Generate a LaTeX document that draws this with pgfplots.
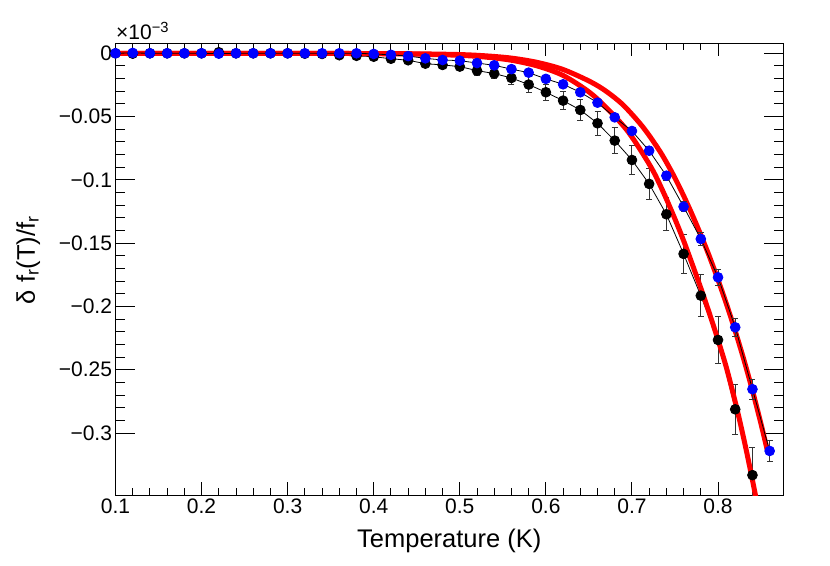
\documentclass[border=0pt]{standalone}
\usepackage{fontspec}
\setmainfont{Liberation Sans}
\usepackage{pgfplots}
\usepackage{pgfplotstable}
\pgfplotsset{compat=1.18}

\pgfplotstableread{
T y e
0.10 0.0000 0.0008
0.12 -0.0003 0.0008
0.14 0.0000 0.0008
0.16 0.0000 0.0008
0.18 0.0000 0.0008
0.20 0.0000 0.0008
0.22 0.0008 0.0008
0.24 0.0000 0.0008
0.26 0.0000 0.0008
0.28 0.0000 0.0008
0.30 0.0000 0.0008
0.32 -0.0003 0.0012
0.34 -0.0005 0.0012
0.36 -0.0015 0.0012
0.38 -0.0020 0.0012
0.40 -0.0027 0.0012
0.42 -0.0043 0.0018
0.44 -0.0055 0.0020
0.46 -0.0082 0.0025
0.48 -0.0092 0.0028
0.50 -0.0105 0.0030
0.52 -0.0137 0.0035
0.54 -0.0160 0.0040
0.56 -0.0195 0.0050
0.58 -0.0247 0.0060
0.60 -0.0308 0.0065
0.62 -0.0374 0.0073
0.64 -0.0448 0.0085
0.66 -0.0553 0.0095
0.68 -0.0690 0.0104
0.70 -0.0843 0.0115
0.72 -0.1032 0.0122
0.74 -0.1272 0.0132
0.76 -0.1585 0.0153
0.78 -0.1915 0.0168
0.80 -0.2265 0.0184
0.82 -0.2813 0.0200
0.84 -0.3333 0.0220
}\blackdata

\pgfplotstableread{
T y e
0.10 0.0000 0.0005
0.12 0.0003 0.0005
0.14 0.0000 0.0005
0.16 0.0000 0.0005
0.18 0.0000 0.0005
0.20 0.0000 0.0005
0.22 -0.0003 0.0005
0.24 0.0000 0.0005
0.26 0.0000 0.0005
0.28 0.0000 0.0005
0.30 0.0000 0.0005
0.32 0.0000 0.0005
0.34 0.0000 0.0005
0.36 0.0000 0.0005
0.38 0.0000 0.0005
0.40 -0.0005 0.0005
0.42 -0.0012 0.0005
0.44 -0.0022 0.0005
0.46 -0.0040 0.0005
0.48 -0.0053 0.0005
0.50 -0.0058 0.0008
0.52 -0.0077 0.0010
0.54 -0.0095 0.0010
0.56 -0.0125 0.0010
0.58 -0.0153 0.0012
0.60 -0.0202 0.0015
0.62 -0.0245 0.0018
0.64 -0.0308 0.0020
0.66 -0.0390 0.0022
0.68 -0.0506 0.0025
0.70 -0.0614 0.0028
0.72 -0.0770 0.0030
0.74 -0.0967 0.0035
0.76 -0.1212 0.0040
0.78 -0.1467 0.0050
0.80 -0.1770 0.0063
0.82 -0.2165 0.0070
0.84 -0.2654 0.0080
0.86 -0.3142 0.0083
}\bluedata

\pgfplotstableread{
T y
0.100 0.0000
0.200 0.0000
0.300 -0.0001
0.350 -0.0001
0.400 -0.0003
0.450 -0.0007
0.500 -0.0016
0.530 -0.0030
0.560 -0.0055
0.590 -0.0100
0.620 -0.0175
0.651 -0.0310
0.674 -0.0455
0.694 -0.0606
0.710 -0.0765
0.725 -0.0935
0.738 -0.1120
0.750 -0.1310
0.760 -0.1480
0.770 -0.1665
0.780 -0.1855
0.790 -0.2055
0.800 -0.2265
0.810 -0.2490
0.822 -0.2810
0.832 -0.3110
0.842 -0.3440
0.848 -0.3650
}\fitblack

\pgfplotstableread{
T y
0.100 0.0000
0.200 0.0000
0.300 -0.0001
0.350 -0.0001
0.400 -0.0002
0.450 -0.0004
0.500 -0.0010
0.530 -0.0020
0.560 -0.0038
0.590 -0.0072
0.620 -0.0128
0.651 -0.0222
0.670 -0.0300
0.690 -0.0410
0.713 -0.0585
0.733 -0.0780
0.748 -0.0960
0.760 -0.1125
0.770 -0.1275
0.780 -0.1435
0.790 -0.1605
0.800 -0.1790
0.810 -0.1985
0.820 -0.2195
0.830 -0.2420
0.840 -0.2665
0.850 -0.2930
0.857 -0.3130
}\fitblue

\begin{document}
\begin{tikzpicture}
\useasboundingbox (0pt,0pt) rectangle (830pt,565pt);
\begin{axis}[
  at={(115.5pt,70pt)}, anchor=south west,
  scale only axis, width=667.5pt, height=451.7pt,
  xmin=0.1, xmax=0.8755, ymin=-0.349, ymax=0.0079,
  axis line style={line width=1pt},
  tick pos=both,
  xtick={0.1,0.2,0.3,0.4,0.5,0.6,0.7,0.8},
  xticklabels={0.1,0.2,0.3,0.4,0.5,0.6,0.7,0.8},
  ytick={0,-0.05,-0.1,-0.15,-0.2,-0.25,-0.3},
  yticklabels={0,−0.05,−0.1,−0.15,−0.2,−0.25,−0.3},
  minor x tick num=4, minor y tick num=4,
  xtick style={/pgfplots/major tick length=13pt, line width=0.9pt, black},
  ytick style={/pgfplots/major tick length=19.5pt, line width=0.9pt, black},
  minor x tick style={/pgfplots/minor tick length=7pt, line width=0.9pt},
  minor y tick style={/pgfplots/minor tick length=9.5pt, line width=0.9pt},
  ticklabel style={font=\fontsize{21}{25}\selectfont},
  xlabel={Temperature (K)},
  ylabel={δ f\textsubscript{r}(T)/f\textsubscript{r}},
  every axis x label/.style={at={(axis description cs:0.5,0)}, anchor=base, yshift=-52pt, font=\fontsize{25.5}{30}\selectfont},
  every axis y label/.style={at={(axis description cs:0,0.52)}, xshift=-80.5pt, rotate=90, anchor=base, font=\fontsize{25.5}{30}\selectfont},
  clip=true,
]
\addplot[black, line width=0.8pt, mark=*, mark size=4.9pt, mark options={fill=black, draw=black},
  error bars/.cd, y dir=both, y explicit,
  error bar style={black!80, line width=1pt},
  error mark options={rotate=90, black!80, mark size=3pt, line width=1pt}]
  table[x=T, y=y, y error=e] {\blackdata};
\addplot[red, line width=5pt, smooth, no marks] table[x=T, y=y] {\fitblack};
\addplot[red, line width=5pt, smooth, no marks] table[x=T, y=y] {\fitblue};
\addplot[black, line width=0.8pt, mark=*, mark size=4.9pt, mark options={fill=blue, draw=blue},
  error bars/.cd, y dir=both, y explicit,
  error bar style={black!80, line width=1pt},
  error mark options={rotate=90, black!80, mark size=3pt, line width=1pt}]
  table[x=T, y=y, y error=e] {\bluedata};
\end{axis}
\node[anchor=base west, inner sep=0pt, font=\fontsize{21}{25}\selectfont] at (116pt,525pt) {×10\textsuperscript{−3}};
\end{tikzpicture}
\end{document}
